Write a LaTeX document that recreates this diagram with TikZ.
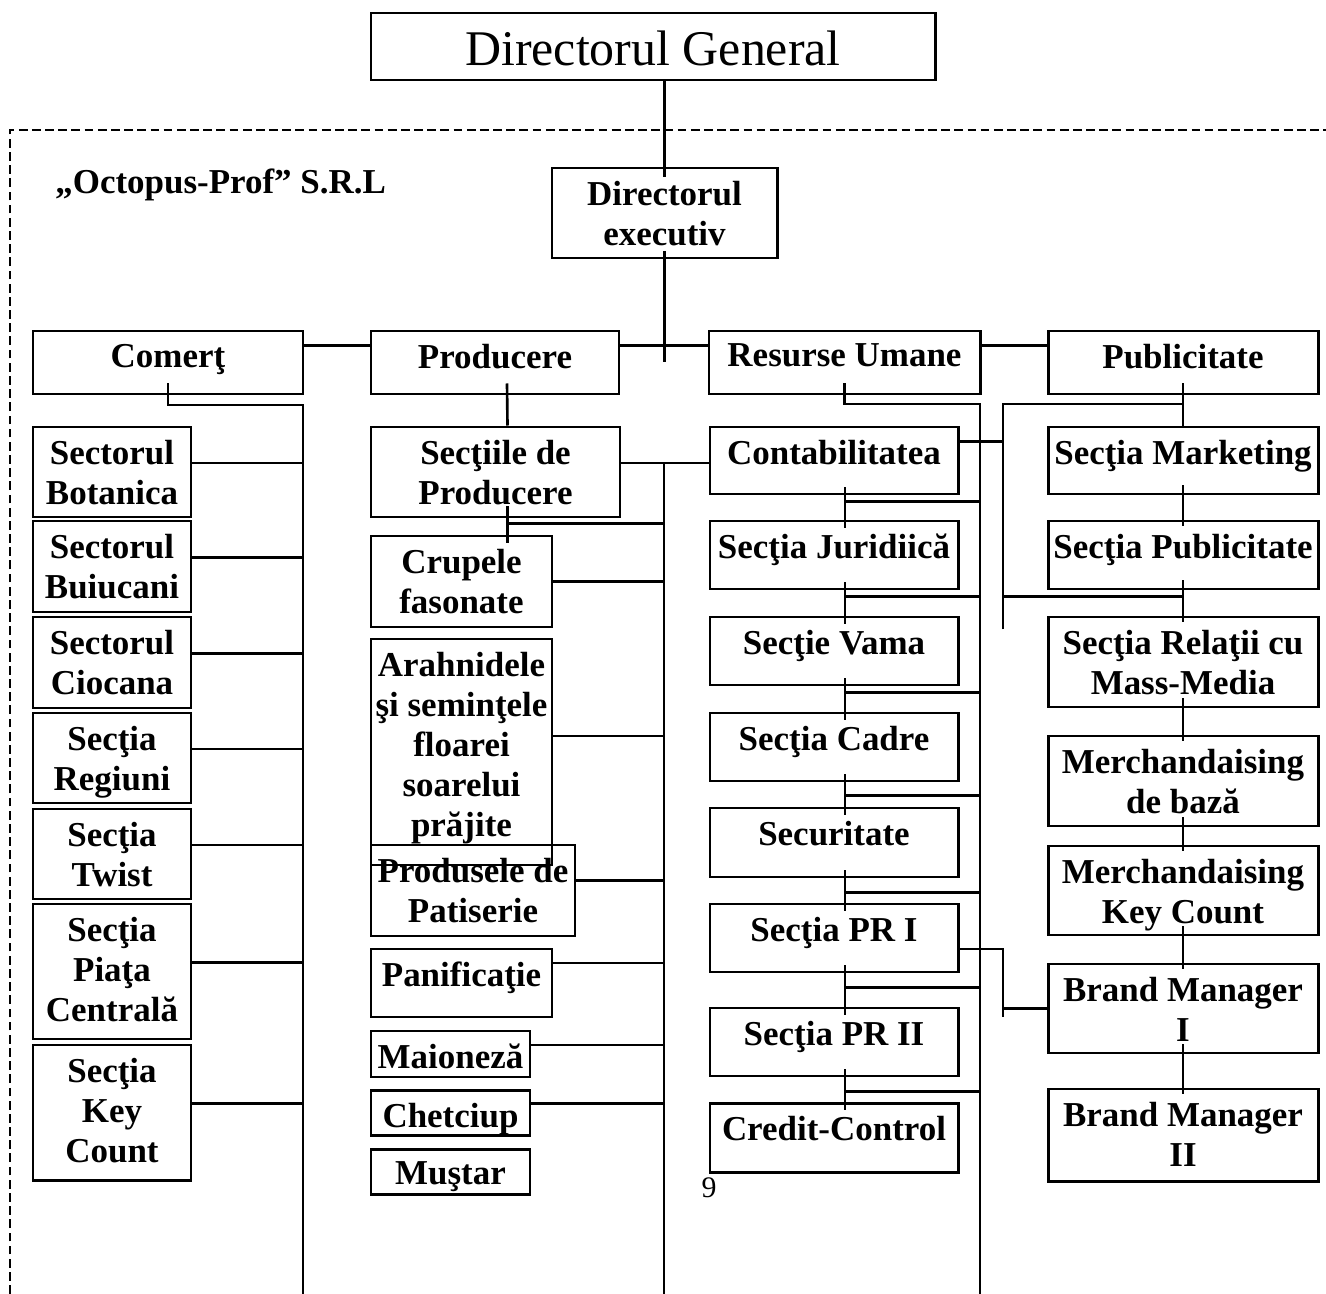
\documentclass[tikz,border=0pt]{standalone}
\usepackage{fontspec}
\setmainfont{Liberation Serif}
\usetikzlibrary{fit}

\tikzset{
  unitbox/.style={draw, line width=1.7pt, inner sep=0pt},
  unittext/.style={inner sep=0pt, align=center, font=\bfseries\fontsize{19.9}{22.8}\selectfont},
  link/.style={line width=1.5pt},
}

% box from (left,top) to (right,bottom), text near the top
\newcommand{\orgunit}[6]{%
  \coordinate (#1-a) at (#2,#3);
  \coordinate (#1-b) at (#4,#5);
  \node[unitbox, fit=(#1-a)(#1-b)] (#1) {};
  \node[unittext, anchor=north] (#1-t) at ([shift={(0,14)}]#1.north) {#6};
}

\begin{document}
\begin{tikzpicture}[x=0.02cm, y=-0.02cm]
\useasboundingbox (0,0) rectangle (1326,1294);

% frame
\coordinate (fr-bl) at (10,1294);
\coordinate (fr-tl) at (10,130);
\coordinate (fr-tr) at (1326,130);
\draw[dashed, dash pattern=on 5pt off 2.5pt, line width=1.1pt] (fr-bl) -- (fr-tl) -- (fr-tr);

% top
\coordinate (dg-a) at (371,13);
\coordinate (dg-b) at (935,80);
\node[unitbox, fit=(dg-a)(dg-b)] (dg) {};
\node[inner sep=0pt, anchor=north, font=\fontsize{28.4}{32}\selectfont] (dg-t) at ([shift={(0,19)}]dg.north) {Directorul General};
\node[unittext, anchor=base west] (firma) at (55,194) {„Octopus-Prof” S.R.L};
\orgunit{exec}{552}{168}{777}{258}{Directorul\\executiv}

% departments
\orgunit{comert}{33}{331}{303}{394}{Comerţ}
\orgunit{producere}{371}{331}{619}{394}{Producere}
\orgunit{resurse}{709}{331}{980}{394}{Resurse Umane}
\orgunit{publicitate}{1048}{331}{1318}{394}{Publicitate}

% comert
\orgunit{botanica}{33}{427}{191}{517}{Sectorul\\Botanica}
\orgunit{buiucani}{33}{521}{191}{612}{Sectorul\\Buiucani}
\orgunit{ciocana}{33}{617}{191}{708}{Sectorul\\Ciocana}
\orgunit{regiuni}{33}{713}{191}{803}{Secţia\\Regiuni}
\orgunit{twist}{33}{809}{191}{899}{Secţia\\Twist}
\orgunit{piata}{33}{904}{191}{1039}{Secţia\\Piaţa\\Centrală}
\orgunit{keycount}{33}{1045}{191}{1180}{Secţia\\Key\\Count}

% producere
\orgunit{sectii}{371}{427}{620}{517}{Secţiile de\\Producere}
\orgunit{crupe}{371}{536}{552}{627}{Crupele\\fasonate}
\orgunit{arahide}{371}{639}{552}{865}{Arahnidele\\şi seminţele\\floarei\\soarelui\\prăjite}
\orgunit{patiserie}{371}{845}{575}{936}{Produsele de\\Patiserie}
\orgunit{panificatie}{371}{949}{552}{1017}{Panificaţie}
\orgunit{maioneza}{371}{1031}{530}{1077}{Maioneză}
\orgunit{ketchup}{371}{1090}{530}{1135}{Chetciup}
\orgunit{mustar}{371}{1149}{530}{1194}{Muştar}

% resurse umane
\orgunit{contab}{710}{427}{958}{494}{Contabilitatea}
\orgunit{juridic}{710}{521}{958}{589}{Secţia Juridiică}
\orgunit{vama}{710}{617}{958}{685}{Secţie Vama}
\orgunit{cadre}{710}{713}{958}{781}{Secţia Cadre}
\orgunit{securitate}{710}{808}{958}{877}{Securitate}
\orgunit{prunu}{710}{904}{958}{972}{Secţia PR I}
\orgunit{prdoi}{710}{1008}{958}{1076}{Secţia PR II}
\orgunit{credit}{710}{1103}{958}{1172}{Credit-Control}

% publicitate
\orgunit{marketing}{1048}{427}{1318}{494}{Secţia Marketing}
\orgunit{spublic}{1048}{521}{1318}{589}{Secţia Publicitate}
\orgunit{media}{1048}{617}{1318}{707}{Secţia Relaţii cu\\Mass-Media}
\orgunit{merchbaza}{1048}{736}{1318}{826}{Merchandaising\\de bază}
\orgunit{merchkey}{1048}{846}{1318}{935}{Merchandaising\\Key Count}
\orgunit{brandunu}{1048}{964}{1318}{1053}{Brand Manager\\I}
\orgunit{branddoi}{1048}{1089}{1318}{1181}{Brand Manager\\II}

\node[inner sep=0pt, font=\fontsize{17}{20}\selectfont] (pagina) at (709,1188) {9};

% links
\coordinate (exec-jos) at (664.5,362);
\draw[link] (exec.north |- dg.south) -- ([shift={(0,10)}]exec.north);
\draw[link] ([shift={(0,-8)}]exec.south) -- (exec-jos);
\draw[link] ([shift={(0,-17)}]comert.east) -- ([shift={(0,-17)}]producere.west);
\draw[link] ([shift={(0,-17)}]producere.east) -- ([shift={(0,-17)}]resurse.west);
\draw[link] ([shift={(0,-17)}]resurse.east) -- ([shift={(0,-17)}]publicitate.west);

\coordinate (com-cot) at (303,405);
\coordinate (com-jos) at (303,1294);
\draw[link] ([shift={(0,-12)}]comert.south) |- (com-cot) -- (com-jos);
\foreach \n in {botanica,buiucani,ciocana,regiuni,twist,piata,keycount}
  \draw[link] ([shift={(0,-9)}]\n.east) -| (com-cot);

\coordinate (prod-cot) at (664,463);
\coordinate (prod-jos) at (664,1294);
\draw[link] ([shift={(12,-12)}]producere.south) -- ([shift={(12,0)}]sectii.north);
\draw[link] ([shift={(0,-9)}]sectii.east) -- ([shift={(0,2.5)}]contab.west);
\draw[link] (prod-cot) -- (prod-jos);
\draw[link] ([shift={(12,-12)}]sectii.south) -- ([shift={(46,8)}]crupe.north);
\draw[link] ([shift={(12,5)}]sectii.south) -| (prod-cot);
\foreach \n/\d in {crupe/0, arahide/-16, patiserie/-10, panificatie/-20, maioneza/-9, ketchup/-9}
  \draw[link] ([shift={(0,\d)}]\n.east) -| (prod-cot);

\coordinate (hr-cot) at (980,404);
\coordinate (hr-jos) at (980,1294);
\draw[link] ([shift={(0,-12)}]resurse.south) |- (hr-cot) -- (hr-jos);
\foreach \a/\b/\d in {contab/juridic/6, juridic/vama/6, vama/cadre/6, cadre/securitate/13, securitate/prunu/14, prunu/prdoi/14, prdoi/credit/14}{
  \draw[link] ([shift={(11,-8)}]\a.south) -- ([shift={(11,8)}]\b.north);
  \draw[link] ([shift={(11,\d)}]\a.south) -| (hr-cot);
}

\coordinate (pub-cot) at (1003,404);
\coordinate (pub-jos) at (1003,629);
\draw[link] ([shift={(0,-12)}]publicitate.south) -- (marketing.north);
\draw[link] (pub-jos) -- (pub-cot) -- (pub-cot -| publicitate.south);
\draw[link] ([shift={(0,-19)}]contab.east) -| (pub-cot);
\draw[link] (pub-jos) |- ([shift={(0,6)}]spublic.south);
\foreach \a/\b in {marketing/spublic, spublic/media, media/merchbaza, merchbaza/merchkey, merchkey/brandunu, brandunu/branddoi}
  \draw[link] ([shift={(0,-10)}]\a.south) -- ([shift={(0,6)}]\b.north);

\coordinate (pr-jos) at (1003,1017);
\draw[link] ([shift={(0,11)}]prunu.east) -| (pr-jos);
\draw[link] (brandunu.west) -- (brandunu.west -| pr-jos);

\end{tikzpicture}
\end{document}
